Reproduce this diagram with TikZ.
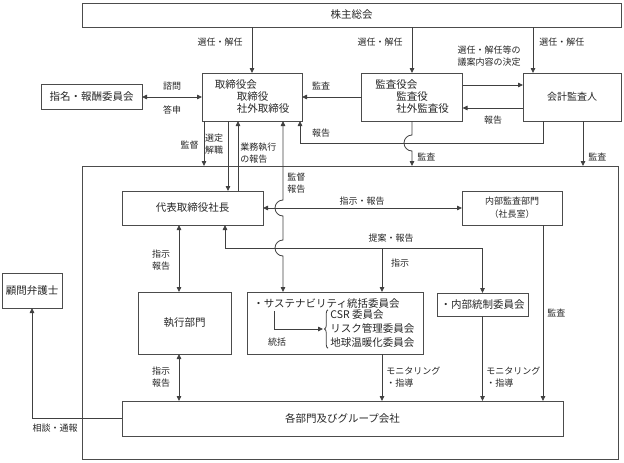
\documentclass[tikz,border=0pt]{standalone}
\usepackage{fontspec}
\setmainfont{Noto Sans CJK JP}
\usetikzlibrary{arrows.meta,decorations.pathreplacing}

\begin{document}
\begin{tikzpicture}[x=1pt,y=-1pt,
    color=black!75, line width=0.8pt,
    box/.style={draw=black!70, inner sep=0pt, outer sep=0pt, text=black!85,
      font=\fontsize{10.5}{12}\selectfont},
    lbl/.style={text=black!85, inner sep=0pt, font=\fontsize{9}{12}\selectfont},
    arr/.style={-{Triangle[length=5pt,width=4.5pt]}},
    arrb/.style={{Triangle[length=5pt,width=4.5pt]}-{Triangle[length=5pt,width=4.5pt]}}]
  \useasboundingbox (0,0) rectangle (624,463);

  % Boxes
  \node[box, minimum width=539pt, minimum height=24pt] (soukai) at (351.5,15) {株主総会};
  \node[box, align=left, minimum width=100pt, minimum height=48pt] (torikai) at (252,97)
    {取締役会\\\hspace*{22pt}取締役\\\hspace*{22pt}社外取締役};
  \node[box, minimum width=101pt, minimum height=25pt] (shimei) at (91.5,97) {指名・報酬委員会};
  \node[box, align=left, minimum width=101pt, minimum height=48pt] (kansa) at (412,97)
    {監査役会\\\hspace*{21pt}監査役\\\hspace*{21pt}社外監査役};
  \node[box, font=\fontsize{10}{12}\selectfont, minimum width=98pt, minimum height=48pt] (kaikei) at (572,97) {会計監査人};
  \node[box, minimum width=536pt, minimum height=293pt] (frame) at (350,312.5) {};
  \node[box, minimum width=141pt, minimum height=34pt] (shacho) at (192.5,208) {代表取締役社長};
  \node[box, align=center, font=\fontsize{9}{13}\selectfont, minimum width=100pt, minimum height=34pt] (naibu) at (512,208)
    {内部監査部門\\（社長室）};
  \node[box, minimum width=93pt, minimum height=62pt] (shikko) at (184.5,323) {執行部門};
  \node[box, minimum width=176pt, minimum height=62pt] (susta) at (335,323) {};
  \node[box, minimum width=91pt, minimum height=23pt] (naitou) at (482.5,304.5) {・内部統制委員会};
  \node[box, minimum width=441pt, minimum height=35pt] (kakubu) at (342.5,418.5) {各部門及びグループ会社};
  \node[box, minimum width=60pt, minimum height=35pt] (bengo) at (32,290.5) {顧問弁護士};

  % Inside the sustainability box
  \node[lbl, font=\fontsize{10.5}{12}\selectfont, anchor=west] (sustitle) at (253,304) {・サステナビリティ統括委員会};
  \node[lbl, font=\fontsize{10.5}{14}\selectfont, align=left, anchor=west] (iinkai) at (330,329)
    {CSR 委員会\\リスク管理委員会\\地球温暖化委員会};
  \draw[decorate, decoration={brace, amplitude=3.5pt}]
    ([xshift=-2pt]iinkai.south west) -- ([xshift=-2pt]iinkai.north west);
  \coordinate (tokatsu) at (274,311);
  \draw[arr] (tokatsu) |- ([xshift=-7pt]iinkai.west);

  % Columns for the vertical lines
  \coordinate (xKantoku) at (204,0);
  \coordinate (xSentei) at (228,0);
  \coordinate (xGyomu) at (238,0);
  \coordinate (xKanhou) at (283,0);
  \coordinate (xRepo) at (300,0);
  \coordinate (xSenninK) at (533,0);
  \coordinate (xKaikeiR) at (543,0);
  \coordinate (xKaikeiK) at (583,0);
  \coordinate (xTeian) at (225,0);
  \coordinate (xShiji) at (382,0);
  \coordinate (xShikko) at (179,0);

  % Top level
  \draw[arr] (soukai.south -| torikai) -- (torikai.north);
  \draw[arr] (soukai.south -| kansa) -- (kansa.north);
  \draw[arr] (soukai.south -| xSenninK) -- (kaikei.north -| xSenninK);
  \draw[arrb] (shimei.east) -- (torikai.west);
  \draw[arr] (kansa.west) -- (torikai.east);
  \draw[arr] ([yshift=12pt]kansa.east) -- ([yshift=12pt]kaikei.west);
  \draw[arr] ([yshift=-11pt]kaikei.west) -- ([yshift=-11pt]kansa.east);
  \draw[arr] (kaikei.south -| xKaikeiR) -- ++(0,22) -| (torikai.south -| xRepo);
  \draw[arr] (kansa.south) -- (412,135) arc[start angle=90, end angle=270, radius=8pt]
    -- (frame.north -| kansa);
  \draw[arr] (kaikei.south -| xKaikeiK) -- (frame.north -| xKaikeiK);

  % From the board
  \draw[arr] (torikai.south -| xKantoku) -- (frame.north -| xKantoku);
  \draw[arr] (torikai.south -| xSentei) -- (shacho.north -| xSentei);
  \draw[arr] (shacho.north -| xGyomu) -- (torikai.south -| xGyomu);
  \draw[arrb] (torikai.south -| xKanhou) -- (283,200)
    arc[start angle=90, end angle=270, radius=8pt] -- (283,240)
    arc[start angle=90, end angle=270, radius=8pt] -- (susta.north -| xKanhou);

  % Inside the company
  \draw[arrb] (shacho.east) -- (naibu.west);
  \draw[arrb] (shacho.south -| xTeian) -- ++(0,23) -| (naitou.north);
  \coordinate (teian) at (382,248);
  \draw[arr] (teian) -- (susta.north -| teian);
  \draw[arrb] (shacho.south -| xShikko) -- (shikko.north -| xShikko);
  \draw[arrb] (shikko.south -| xShikko) -- (kakubu.north -| xShikko);
  \draw[arr] (susta.south -| xShiji) -- (kakubu.north -| xShiji);
  \draw[arr] (naitou.south) -- (kakubu.north -| naitou);
  \draw[arr] (naibu.south -| xKaikeiR) -- (kakubu.north -| xKaikeiR);
  \draw[arr] (kakubu.west) -| (bengo.south);

  % Labels
  \node[lbl, anchor=east] (lSen1) at (243,42) {選任・解任};
  \node[lbl, anchor=east] (lSen2) at (403,42) {選任・解任};
  \node[lbl, anchor=west] (lSen3) at (539,42) {選任・解任};
  \node[lbl, align=center] (lGian) at (489,56) {選任・解任等の\\議案内容の決定};
  \node[lbl] (lShimon) at (172,86) {諮問};
  \node[lbl] (lToshin) at (172,110) {答申};
  \node[lbl] (lKansa1) at (321,86) {監査};
  \node[lbl] (lHou1) at (493,120) {報告};
  \node[lbl] (lHou2) at (321,133) {報告};
  \node[lbl, anchor=west] (lKansa2) at (417,157) {監査};
  \node[lbl, anchor=west] (lKansa3) at (588,157) {監査};
  \node[lbl, anchor=east] (lKantoku) at (199,145) {監督};
  \node[lbl, align=center] (lSentei) at (214,144) {選定\\解職};
  \node[lbl, align=left, anchor=west] (lGyomu) at (240,153) {業務執行\\の報告};
  \node[lbl, align=left, anchor=west] (lKanhou) at (287,183) {監督\\報告};
  \node[lbl] (lShiho) at (362,201) {指示・報告};
  \node[lbl] (lTeian) at (391,238) {提案・報告};
  \node[lbl] (lShiji) at (400,263) {指示};
  \node[lbl, align=center] (lShiho1) at (161,260) {指示\\報告};
  \node[lbl, align=center] (lShiho2) at (161,377) {指示\\報告};
  \node[lbl, anchor=west] (lKansa4) at (547,313) {監査};
  \node[lbl, align=left, anchor=west] (lMoni1) at (386,377) {モニタリング\\・指導};
  \node[lbl, align=left, anchor=west] (lMoni2) at (486,377) {モニタリング\\・指導};
  \node[lbl] (lSoudan) at (55,428) {相談・通報};
  \node[lbl] (lTokatsu) at (277,342) {統括};
\end{tikzpicture}
\end{document}
